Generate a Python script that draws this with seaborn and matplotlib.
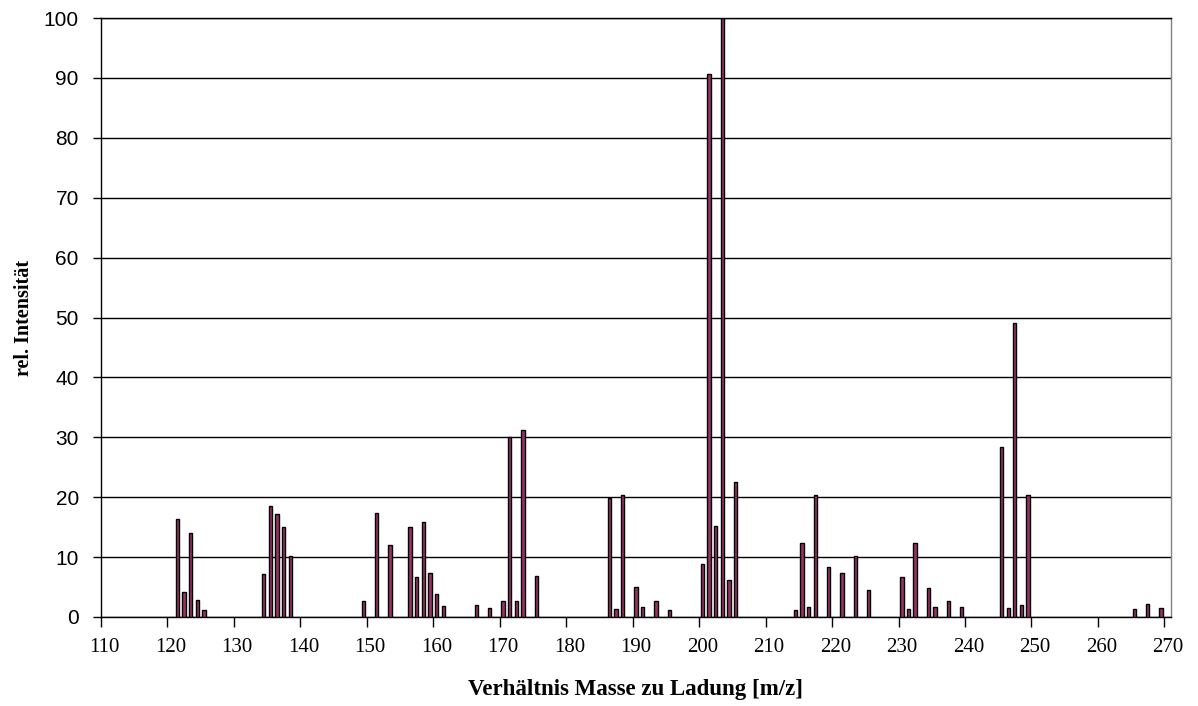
import numpy as np
import pandas as pd
import matplotlib
matplotlib.use("Agg")
import matplotlib.pyplot as plt
import seaborn as sns

# ---- data ----
mz = [121, 122, 123, 124, 125,
      134, 135, 136, 137, 138,
      149, 151, 153, 156, 157, 158, 159, 160, 161,
      166, 168, 170, 171, 172, 173, 175,
      186, 187, 188, 190, 191, 193, 195,
      200, 201, 202, 203, 204, 205,
      214, 215, 216, 217, 219, 221, 223, 225,
      230, 231, 232, 234, 235, 237, 239,
      245, 246, 247, 248, 249,
      265, 267, 269]
intensity = [16.4, 4.2, 14.0, 2.9, 1.1,
             7.1, 18.6, 17.2, 15.1, 10.2,
             2.6, 17.4, 12.1, 15.1, 6.6, 15.9, 7.4, 3.9, 1.8,
             2.0, 1.5, 2.6, 30.1, 2.7, 31.2, 6.9,
             19.8, 1.3, 20.4, 5.0, 1.7, 2.6, 1.2,
             8.9, 90.6, 15.2, 100.0, 6.1, 22.5,
             1.1, 12.3, 1.7, 20.3, 8.4, 7.4, 10.2, 4.5,
             6.6, 1.3, 12.3, 4.8, 1.6, 2.6, 1.7,
             28.3, 1.5, 49.0, 2.0, 20.4,
             1.4, 2.1, 1.5]
categories = [str(v) for v in range(110, 271)]
x_tick_labels = [str(v) for v in range(110, 271, 10)]
y_ticks = list(range(0, 101, 10))

sns.set_style("white")
plt.rcParams["font.family"] = ["Liberation Serif", "DejaVu Serif"]
plt.rcParams["text.color"] = "black"
plt.rcParams["axes.labelcolor"] = "black"
plt.rcParams["xtick.color"] = "black"
plt.rcParams["ytick.color"] = "black"

df = pd.DataFrame({"mz": [str(v) for v in mz], "intensity": intensity})

fig = plt.figure(figsize=(11.98, 7.06), dpi=100)
ax = fig.add_axes([101 / 1198, 1 - 617 / 706, 1070 / 1198, 599 / 706])

sns.barplot(data=df, x="mz", y="intensity", order=categories, ax=ax,
            color="#993366", saturation=1, width=0.5,
            edgecolor="black", linewidth=1.0, zorder=3)

ax.set_xlim(-0.5, len(categories) - 0.5)
ax.set_ylim(0, 100)

# y axis
ax.set_yticks(y_ticks)
ax.set_yticklabels([str(v) for v in y_ticks], fontfamily="Liberation Sans",
                   fontsize=15, color="black")
ax.tick_params(axis="y", direction="out", length=6, width=1, color="black",
               pad=10, left=True, labelcolor="black")
ax.grid(axis="y", color="black", linewidth=1, zorder=0)
ax.grid(axis="x", visible=False)

# x axis: labels at category centres, tick marks at category boundaries
major_pos = [categories.index(l) for l in x_tick_labels]
ax.set_xticks(major_pos)
ax.set_xticklabels(x_tick_labels, fontfamily="Liberation Serif", fontsize=15,
                   color="black")
ax.tick_params(axis="x", which="major", length=0, pad=15, labelcolor="black")
ax.set_xticks([p - 0.5 for p in major_pos], minor=True)
ax.tick_params(axis="x", which="minor", direction="out", length=7, width=1,
               color="black", bottom=True)

for side in ["left", "bottom", "top"]:
    ax.spines[side].set_color("black")
    ax.spines[side].set_linewidth(1)
ax.spines["right"].set_color("#808080")
ax.spines["right"].set_linewidth(1)

ax.set_xlabel("Verhältnis Masse zu Ladung [m/z]", fontfamily="Liberation Serif",
              fontweight="bold", fontsize=16.5, color="black")
ax.set_ylabel("rel. Intensität", fontfamily="Liberation Serif",
              fontweight="bold", fontsize=14.5, color="black")
ax.xaxis.label.set_va("center")
ax.yaxis.label.set_va("center")
ax.xaxis.set_label_coords(0.5, (617 - 689) / 599)
ax.yaxis.set_label_coords((24 - 101) / 1070, 0.5)

fig.savefig("out.png", dpi=100)
